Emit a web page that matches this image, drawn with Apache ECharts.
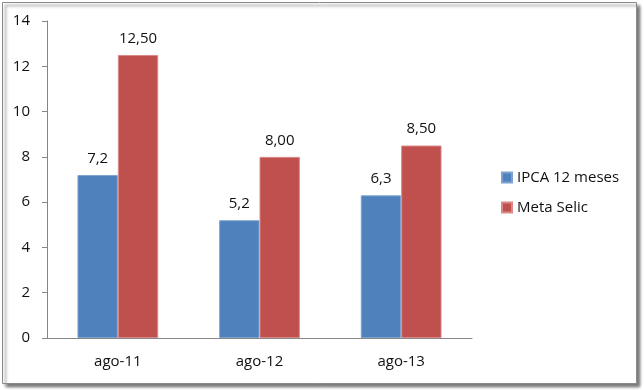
<!DOCTYPE html>
<html><head><meta charset="utf-8">
<script src="https://cdn.jsdelivr.net/npm/echarts@6/dist/echarts.min.js"></script>
<style>html,body{margin:0;padding:0;background:#fff}#c{width:644px;height:390px}</style>
</head><body><div id="c"></div>
<script>
const categories = ['ago-11', 'ago-12', 'ago-13'];
const ipca = [7.2, 5.2, 6.3];
const selic = [12.5, 8.0, 8.5];
const seriesNames = ['IPCA 12 meses', 'Meta Selic'];
const yTicks = [0, 2, 4, 6, 8, 10, 12, 14];

const font = '"Open Sans", "Noto Sans", sans-serif';
const chart = echarts.init(document.getElementById('c'), null, {renderer: 'canvas'});
chart.setOption({
  animation: false,
  textStyle: {fontFamily: font},
  graphic: [{
    type: 'rect', shape: {x: 2.5, y: 2.5, width: 634, height: 381},
    style: {fill: '#fff', stroke: '#8a8a8a', lineWidth: 1, shadowBlur: 3, shadowOffsetX: 3, shadowOffsetY: 3, shadowColor: 'rgba(0,0,0,0.55)'},
    z: -10, silent: true
  }],
  grid: {left: 47, right: 172, top: 21, bottom: 52},
  legend: {
    orient: 'vertical', left: 496, top: 165, itemWidth: 10, itemHeight: 10, itemGap: 15,
    icon: 'rect', textStyle: {fontSize: 15, color: '#111', fontFamily: font},
    data: seriesNames
  },
  xAxis: {
    type: 'category', data: categories,
    axisLine: {lineStyle: {color: '#868686'}},
    axisTick: {length: 5, lineStyle: {color: '#868686'}},
    axisLabel: {fontSize: 15, color: '#111', margin: 16, fontFamily: font}
  },
  yAxis: {
    type: 'value', min: yTicks[0], max: yTicks[yTicks.length - 1], interval: 2,
    axisLine: {show: true, lineStyle: {color: '#868686'}},
    axisTick: {show: true, length: 5, lineStyle: {color: '#868686'}},
    splitLine: {show: false},
    axisLabel: {fontSize: 15, color: '#111', margin: 17, fontFamily: font}
  },
  series: [{
    name: seriesNames[0], type: 'bar', data: ipca, barGap: '0%', barCategoryGap: '43%',
    itemStyle: {color: '#4F81BD', borderColor: '#7ea2cf', borderWidth: 1},
    label: {show: true, position: 'top', distance: 9, fontSize: 15, color: '#111', fontFamily: font,
      formatter: p => p.value.toFixed(1).replace('.', ',')}
  }, {
    name: seriesNames[1], type: 'bar', data: selic, barGap: '0%', barCategoryGap: '43%',
    itemStyle: {color: '#C0504D', borderColor: '#d98a88', borderWidth: 1},
    label: {show: true, position: 'top', distance: 9, fontSize: 15, color: '#111', fontFamily: font,
      formatter: p => p.value.toFixed(2).replace('.', ',')}
  }]
});
</script></body></html>
